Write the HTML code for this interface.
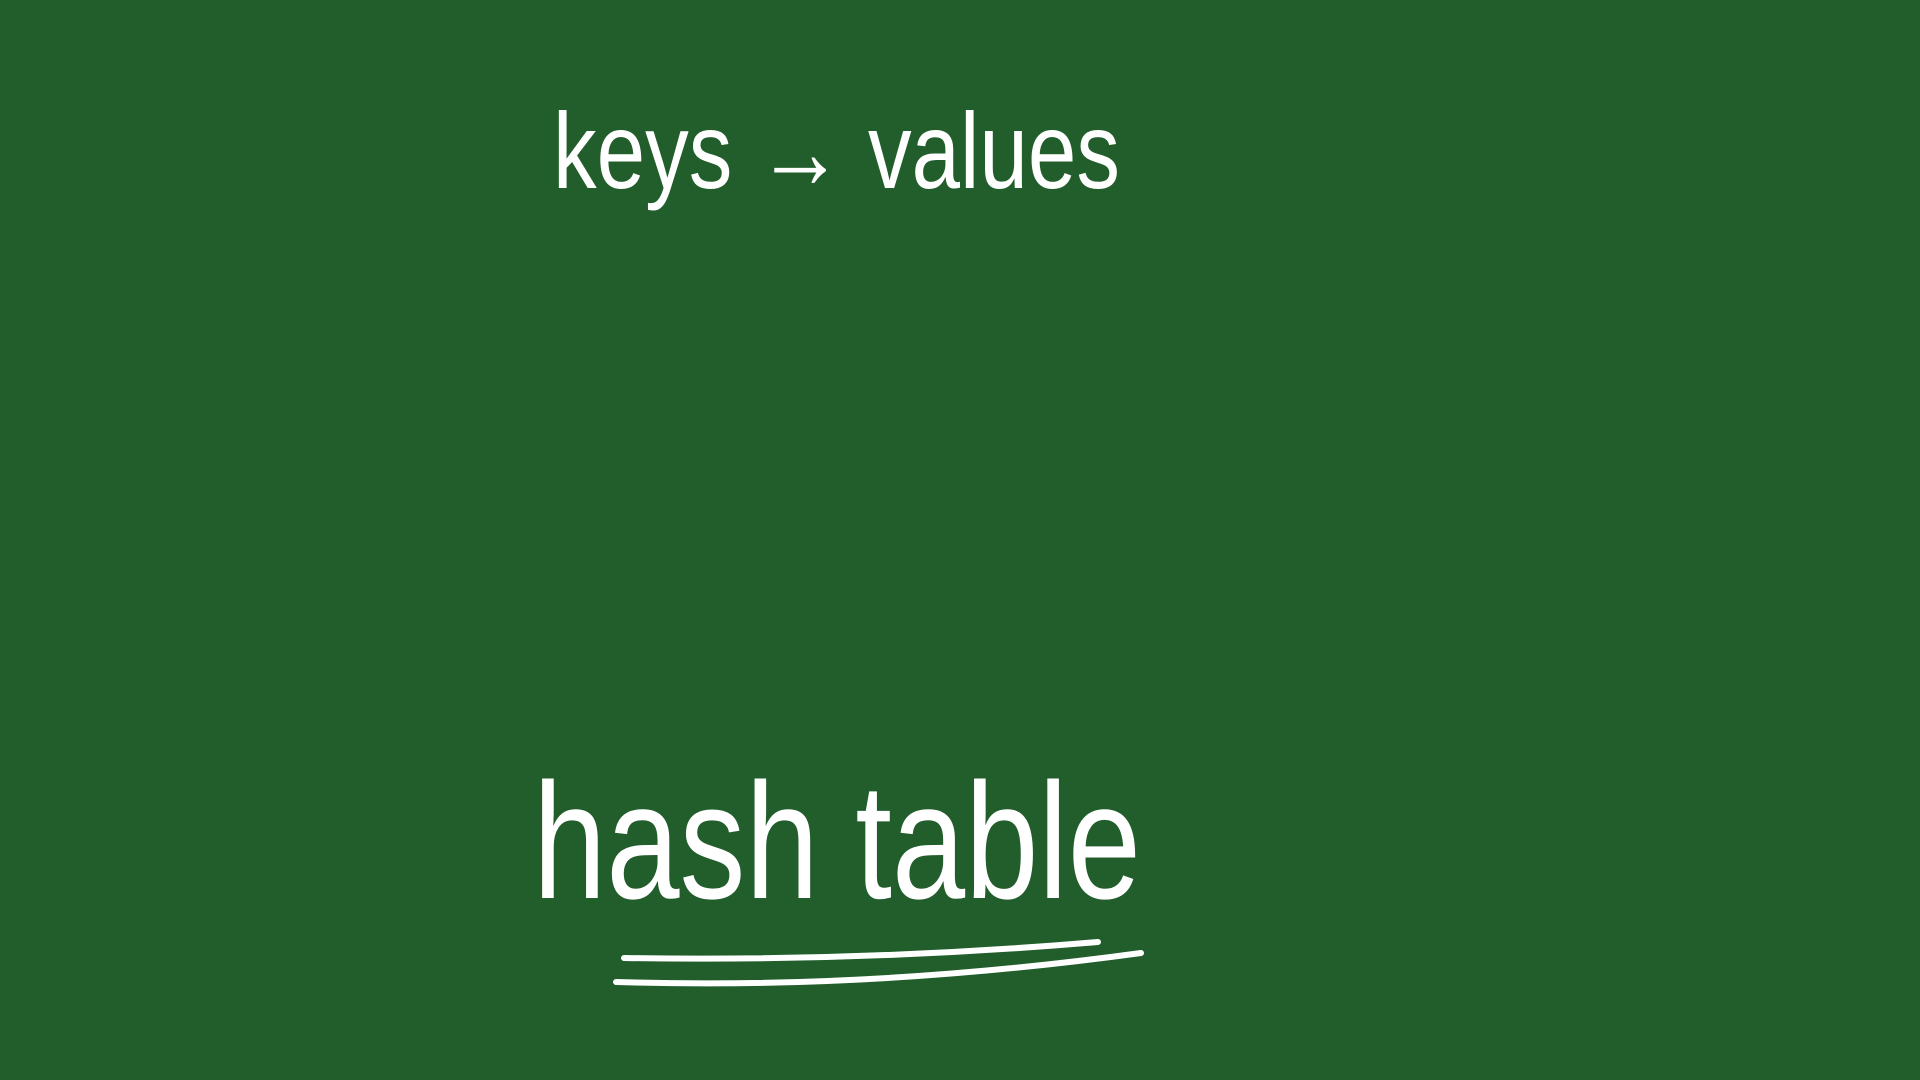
<!DOCTYPE html>
<html>
<head>
<meta charset="utf-8">
<style>
  html,body{margin:0;padding:0;width:1920px;height:1080px;overflow:hidden;background:#225e2c;}
  svg{display:block;}
</style>
</head>
<body>
<svg width="1920" height="1080" viewBox="0 0 1920 1080" xmlns="http://www.w3.org/2000/svg">
  <rect width="1920" height="1080" fill="#225e2c"/>
  <text x="553" y="188" font-family="'Liberation Sans', sans-serif" font-size="108" fill="#ffffff" textLength="567" lengthAdjust="spacingAndGlyphs">keys → values</text>
  <text x="533" y="898" font-family="'Liberation Sans', sans-serif" font-size="165" fill="#ffffff" textLength="608" lengthAdjust="spacingAndGlyphs">hash table</text>
  <path d="M624 958 Q860 962 1098 942" stroke="#ffffff" stroke-width="6" fill="none" stroke-linecap="round"/>
  <path d="M616 982 Q870 990 1141 953" stroke="#ffffff" stroke-width="6" fill="none" stroke-linecap="round"/>
</svg>
</body>
</html>
